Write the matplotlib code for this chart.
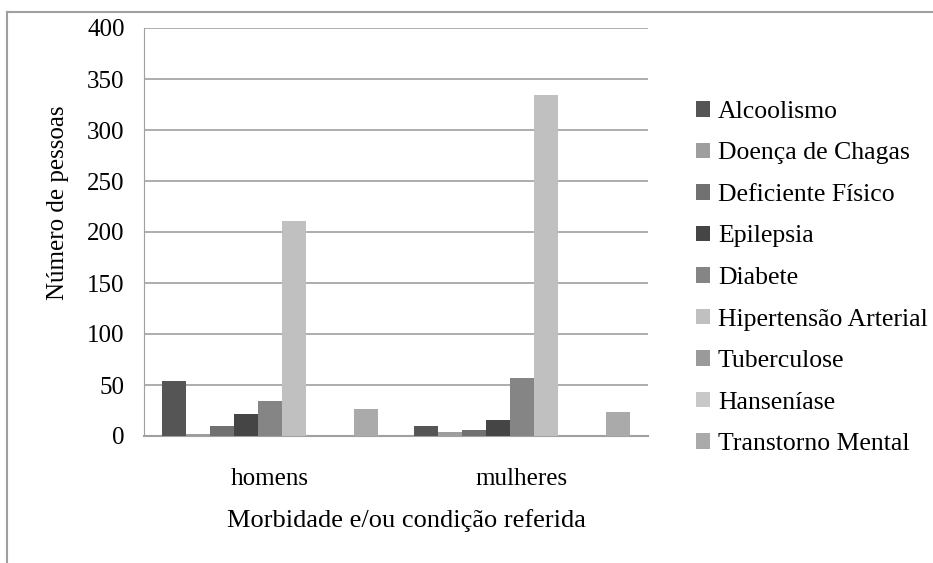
import matplotlib.pyplot as plt
from matplotlib.lines import Line2D
import numpy as np

plt.rcParams['font.family'] = ['Liberation Serif', 'DejaVu Serif']

groups = ["homens", "mulheres"]
conditions = ["Alcoolismo", "Doença de Chagas", "Deficiente Físico", "Epilepsia",
              "Diabete", "Hipertensão Arterial", "Tuberculose", "Hanseníase",
              "Transtorno Mental"]
homens = [54, 2, 10, 22, 34, 211, 0, 0, 26]
mulheres = [10, 4, 6, 16, 57, 334, 0, 0, 24]
colors = ["#555555", "#9e9e9e", "#717171", "#454545", "#858585",
          "#c0c0c0", "#9a9a9a", "#c8c8c8", "#aaaaaa"]

W, H = 933, 563
FS = 18
fig = plt.figure(figsize=(W / 100, H / 100), dpi=100)
ax = fig.add_axes([144 / W, (H - 436) / H, 504 / W, 408 / H])

x = np.arange(len(groups))
w = 24 / 252
for i, name in enumerate(conditions):
    vals = [homens[i], mulheres[i]]
    ax.bar(x + (i - 4) * w, vals, width=w, color=colors[i], label=name, zorder=3)

ax.set_xlim(-0.5, 1.5)
ax.set_ylim(0, 400)
ax.set_yticks(range(0, 401, 50))
ax.set_xticks(x)
ax.set_xticklabels(groups)
ax.tick_params(axis='both', length=0, labelsize=FS, colors='black')
ax.tick_params(axis='y', pad=14)
ax.tick_params(axis='x', pad=23)
ax.grid(axis='y', color='#a0a0a0', linewidth=1.2, zorder=0)
for s in ['top', 'right']:
    ax.spines[s].set_visible(False)
ax.spines['left'].set_color('#a0a0a0')
ax.spines['bottom'].set_color('#a0a0a0')
ax.spines['bottom'].set_linewidth(1.5)

fig.text(58 / W, 1 - 203 / H, "Número de pessoas", rotation=90,
         ha='center', va='center', fontsize=FS)
fig.text(406 / W, 1 - 521 / H, "Morbidade e/ou condição referida",
         ha='center', va='center', fontsize=19)

ax.legend(loc='center left', bbox_to_anchor=(696 / W, 1 - 278 / H),
          bbox_transform=fig.transFigure, frameon=False, fontsize=18.5,
          handlelength=0.55, handleheight=0.55, handletextpad=0.3,
          labelspacing=0.76, borderpad=0, borderaxespad=0)

# outer chart frame (clipped at the right and bottom)
fig.add_artist(Line2D([7 / W, 7 / W], [0, 1 - 12 / H], transform=fig.transFigure,
                      color='#a0a0a0', linewidth=1.5))
fig.add_artist(Line2D([7 / W, 1], [1 - 12 / H, 1 - 12 / H], transform=fig.transFigure,
                      color='#a0a0a0', linewidth=1.5))

fig.savefig("out.png", dpi=100)
